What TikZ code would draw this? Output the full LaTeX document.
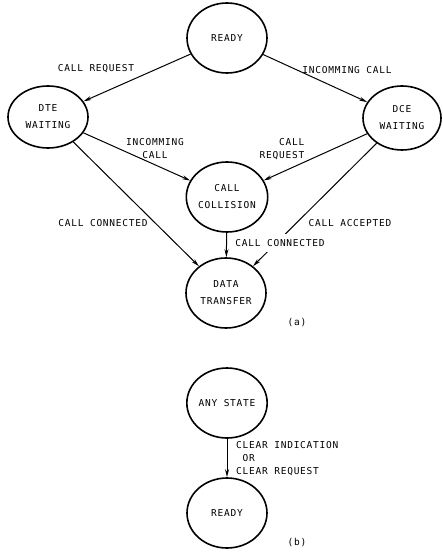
\documentclass[tikz,border=0pt]{standalone}
\usepackage{fontspec}
\setmonofont[LetterSpace=8]{DejaVu Sans Mono}
\usetikzlibrary{shapes.geometric,arrows.meta}
\begin{document}
\begin{tikzpicture}[x=1pt,y=-1pt,
  font=\ttfamily\fontsize{9.5}{13}\selectfont,
  state/.style={draw,ellipse,line width=1.6pt,minimum width=80pt,minimum height=70pt,inner sep=0pt,align=center},
  trans/.style={line width=1pt,-{Stealth[length=8pt,width=4pt]}},
  lbl/.style={inner sep=1pt,align=center}]
\useasboundingbox (0,0) rectangle (442,553);

% (a) call set-up states
\node[state] (ready) at (227,38) {READY};
\node[state,minimum height=62pt] (dte) at (48,117) {DTE\\[4pt]WAITING};
\node[state,minimum width=78pt,minimum height=64pt] (dce) at (402,118) {DCE\\[4pt]WAITING};
\node[state] (coll) at (227,197) {CALL\\[4pt]COLLISION};
\node[state] (data) at (226,293) {DATA\\[4pt]TRANSFER};

\draw[trans] (ready) -- (dte);
\draw[trans] (ready) -- (dce);
\draw[trans] (dte) -- (coll);
\draw[trans] (dce) -- (coll);
\draw[trans] (dte) -- (data);
\draw[trans] (dce) -- (data);
\draw[trans] (coll) -- (data);

\node[lbl] (l1) at (96,69) {CALL REQUEST};
\node[lbl] (l2) at (347,70) {INCOMMING CALL};
\node[lbl,align=center] (l3) at (155,149) {INCOMMING\\CALL};
\node[lbl,align=right] (l4) at (282,149) {CALL\\REQUEST};
\node[lbl] (l5) at (103,223) {CALL CONNECTED};
\node[lbl] (l6) at (350,223) {CALL ACCEPTED};
\node[lbl,fill=white,inner ysep=5pt] (l7) at (280,243) {CALL CONNECTED};
\node[lbl] (a) at (297,323) {(a)};

% (b) clearing from any state
\node[state] (any) at (227,403) {ANY STATE};
\node[state] (ready2) at (227,513) {READY};
\draw[trans] (any) -- (ready2);
\node[lbl,align=left,anchor=west] (l8) at (235,459) {CLEAR INDICATION\\\ OR\\CLEAR REQUEST};
\node[lbl] (b) at (297,543) {(b)};
\end{tikzpicture}
\end{document}
